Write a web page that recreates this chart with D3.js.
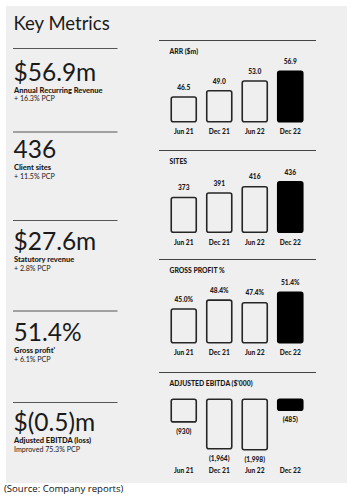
<!DOCTYPE html>
<html>
<head>
<meta charset="utf-8">
<script src="https://cdn.jsdelivr.net/npm/d3@7/dist/d3.min.js"></script>
<style>
html,body{margin:0;padding:0;background:#fff;}
svg{display:block;}
</style>
</head>
<body>
<svg id="chart" width="356" height="498"></svg>
<script>
// ---- data ----
const periods = ["Jun 21", "Dec 21", "Jun 22", "Dec 22"];
const arrValues = [46.5, 49.0, 53.0, 56.9];
const arrLabels = ["46.5", "49.0", "53.0", "56.9"];
const sitesValues = [373, 391, 416, 436];
const sitesLabels = ["373", "391", "416", "436"];
const gpValues = [45.0, 48.4, 47.4, 51.4];
const gpLabels = ["45.0%", "48.4%", "47.4%", "51.4%"];
const ebitdaValues = [-930, -1964, -1998, -485];
const ebitdaLabels = ["(930)", "(1,964)", "(1,998)", "(485)"];
const chartTitles = ["ARR ($m)", "SITES", "GROSS PROFIT %", "ADJUSTED EBITDA ($'000)"];

const metricValues = ["$56.9m", "436", "$27.6m", "51.4%", "$(0.5)m"];
const metricNames = ["Annual Recurring Revenue", "Client sites", "Statutory revenue", "Gross profit'", "Adjusted EBITDA (loss)"];
const metricChanges = ["+ 16.3% PCP", "+ 11.5% PCP", "+ 2.8% PCP", "+ 6.1% PCP", "Improved 75.3% PCP"];
const pageTitle = "Key Metrics";
const sourceNote = "(Source: Company reports)";

// ---- drawing ----
const svg = d3.select("#chart");
const FONT = "Lato, 'Open Sans', sans-serif";
const INK = "#1a1a1a";

svg.append("rect").attr("x", 6).attr("y", 6).attr("width", 341).attr("height", 477).attr("fill", "#efefef");

svg.append("text").attr("x", 13.5).attr("y", 29.5).text(pageTitle)
  .attr("font-family", FONT).attr("font-size", 18.5).attr("font-weight", 400).attr("fill", INK);

// left metrics
const leftSep = [48.5, 132, 220.5, 311, 402.5];
const bigBase = [80.5, 158, 250, 341, 431];
metricValues.forEach((v, i) => {
  svg.append("line").attr("x1", 13).attr("x2", 117.5).attr("y1", leftSep[i]).attr("y2", leftSep[i])
    .attr("stroke", "#555").attr("stroke-width", 1);
  svg.append("text").attr("x", 13.5).attr("y", bigBase[i]).text(v)
    .attr("font-family", FONT).attr("font-size", 24.5).attr("font-weight", 400).attr("fill", INK);
  svg.append("text").attr("x", 14).attr("y", bigBase[i] + 12.3).text(metricNames[i])
    .attr("font-family", FONT).attr("font-size", 7.5).attr("font-weight", 900).attr("fill", INK);
  svg.append("text").attr("x", 14).attr("y", bigBase[i] + 20.8).text(metricChanges[i])
    .attr("font-family", FONT).attr("font-size", 7.1).attr("font-weight", 400).attr("fill", INK);
});

// right charts
const x = d3.scaleBand().domain(periods).range([166, 308]).paddingInner(0.25).paddingOuter(0.125);

const charts = [
  {title: chartTitles[0], values: arrValues, labels: arrLabels, sep: 40.5, base: 122.5, domain: [35.85, 56.9], h: 52, neg: false},
  {title: chartTitles[1], values: sitesValues, labels: sitesLabels, sep: 150.5, base: 233, domain: [227, 436], h: 52, neg: false},
  {title: chartTitles[2], values: gpValues, labels: gpLabels, sep: 259.5, base: 343.5, domain: [31.5, 51.4], h: 52, neg: false},
  {title: chartTitles[3], values: ebitdaValues, labels: ebitdaLabels, sep: 372.5, base: 398.5, domain: [0, -1998], h: 52, neg: true}
];

charts.forEach(c => {
  const g = svg.append("g");
  g.append("line").attr("x1", 159).attr("x2", 316).attr("y1", c.sep).attr("y2", c.sep)
    .attr("stroke", "#444").attr("stroke-width", 1);
  g.append("text").attr("x", 169.5).attr("y", c.sep + 13.5).text(c.title)
    .attr("font-family", FONT).attr("font-size", 6.8).attr("font-weight", 900).attr("fill", INK);

  let y;
  if (!c.neg) y = d3.scaleLinear().domain(c.domain).range([c.base, c.base - c.h]);
  else y = d3.scaleLinear().domain(c.domain).range([c.base, c.base + c.h]);

  const sw = 1.6;
  g.selectAll("rect.bar").data(c.values).join("rect")
    .attr("class", "bar")
    .attr("x", (d, i) => x(periods[i]) + sw / 2)
    .attr("width", x.bandwidth() - sw)
    .attr("y", d => (c.neg ? y(0) : y(d)) + sw / 2)
    .attr("height", d => Math.abs(y(d) - y(c.neg ? 0 : c.domain[0])) - sw)
    .attr("rx", 2).attr("ry", 2)
    .attr("fill", (d, i) => i === 3 ? "#000" : "#efefef")
    .attr("stroke", (d, i) => i === 3 ? "#000" : "#262626")
    .attr("stroke-width", sw);

  g.selectAll("text.val").data(c.values).join("text")
    .attr("class", "val")
    .attr("x", (d, i) => x(periods[i]) + x.bandwidth() / 2)
    .attr("y", d => c.neg ? y(d) + 11 : y(d) - 6.5)
    .attr("text-anchor", "middle")
    .text((d, i) => c.labels[i])
    .attr("font-family", FONT).attr("font-size", 6.6).attr("font-weight", 900).attr("fill", INK);

  const labY = c.neg ? c.base + c.h + 22.5 : c.base + 11.5;
  g.selectAll("text.cat").data(periods).join("text")
    .attr("class", "cat")
    .attr("x", d => x(d) + x.bandwidth() / 2)
    .attr("y", labY)
    .attr("text-anchor", "middle")
    .text(d => d)
    .attr("font-family", FONT).attr("font-size", 6.6).attr("font-weight", 900).attr("fill", INK);
});

svg.append("text").attr("x", 4).attr("y", 492).text(sourceNote)
  .attr("font-family", "'Open Sans', 'Liberation Sans', sans-serif").attr("font-size", 9.6).attr("fill", "#111");
</script>
</body>
</html>
